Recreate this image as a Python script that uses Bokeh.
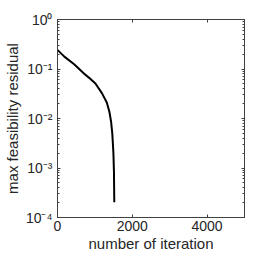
from bokeh.plotting import figure
from bokeh.models import Range1d, FixedTicker, LinearAxis, LogAxis, CustomJSTickFormatter
from bokeh.embed import file_html
from bokeh.resources import INLINE

iterations = [0, 183, 445, 707, 838, 1014, 1187, 1318, 1389, 1433, 1465, 1495, 1510, 1518]
residual = [0.243, 0.178, 0.125, 0.081, 0.067, 0.0508, 0.0326, 0.0210, 0.0135, 0.0086, 0.0050, 0.0020, 0.0008, 0.000204]

x_ticks = [0, 2000, 4000]
y_ticks = [1e-4, 1e-3, 1e-2, 1e-1, 1]
y_tick_labels = {1e-4: "10⁻⁴", 1e-3: "10⁻³", 1e-2: "10⁻²", 1e-1: "10⁻¹", 1: "10⁰"}
y_minor = [m * 10.0 ** e for e in range(-4, 0) for m in range(2, 10)]

FONT = "Liberation Sans"
FRAME = "#404040"

p = figure(width=254, height=254, y_axis_type="log",
           x_range=Range1d(0, 5000), y_range=Range1d(1e-4, 1),
           output_backend="svg", toolbar_location=None,
           min_border_left=50, min_border_right=10, min_border_top=19, min_border_bottom=30)
p.grid.visible = False
p.outline_line_color = FRAME
p.background_fill_color = "white"
p.border_fill_color = "white"

bottom = p.below[0]
left = p.left[0]

p.line(iterations, residual, line_color="black", line_width=2)

bottom.ticker = FixedTicker(ticks=x_ticks)
left.ticker = FixedTicker(ticks=y_ticks, minor_ticks=y_minor)
left.major_label_overrides = y_tick_labels
bottom.axis_label = "number of iteration"
left.axis_label = "max feasibility residual"

blank = CustomJSTickFormatter(code="return ''")
top = LinearAxis(ticker=FixedTicker(ticks=x_ticks), formatter=blank)
right = LogAxis(ticker=FixedTicker(ticks=y_ticks, minor_ticks=y_minor), formatter=blank)
p.add_layout(top, "above")
p.add_layout(right, "right")

for ax in [bottom, left, top, right]:
    ax.axis_line_color = FRAME
    ax.major_tick_line_color = FRAME
    ax.minor_tick_line_color = FRAME
    ax.major_tick_in = 3
    ax.major_tick_out = 0
    ax.minor_tick_in = 2
    ax.minor_tick_out = 0
    ax.major_label_text_font = FONT
    ax.major_label_text_font_size = "14px"
    ax.major_label_text_color = "#262626"
    ax.axis_label_text_font = FONT
    ax.axis_label_text_font_size = "15px"
    ax.axis_label_text_font_style = "normal"
    ax.axis_label_text_color = "#262626"
bottom.minor_tick_line_color = None
top.minor_tick_line_color = None
for ax in [top, right]:
    ax.major_label_standoff = 0
bottom.major_label_standoff = 3
left.major_label_standoff = 5
bottom.axis_label_standoff = 1
left.axis_label_standoff = 2

open("out.html", "w").write(file_html(p, INLINE))
